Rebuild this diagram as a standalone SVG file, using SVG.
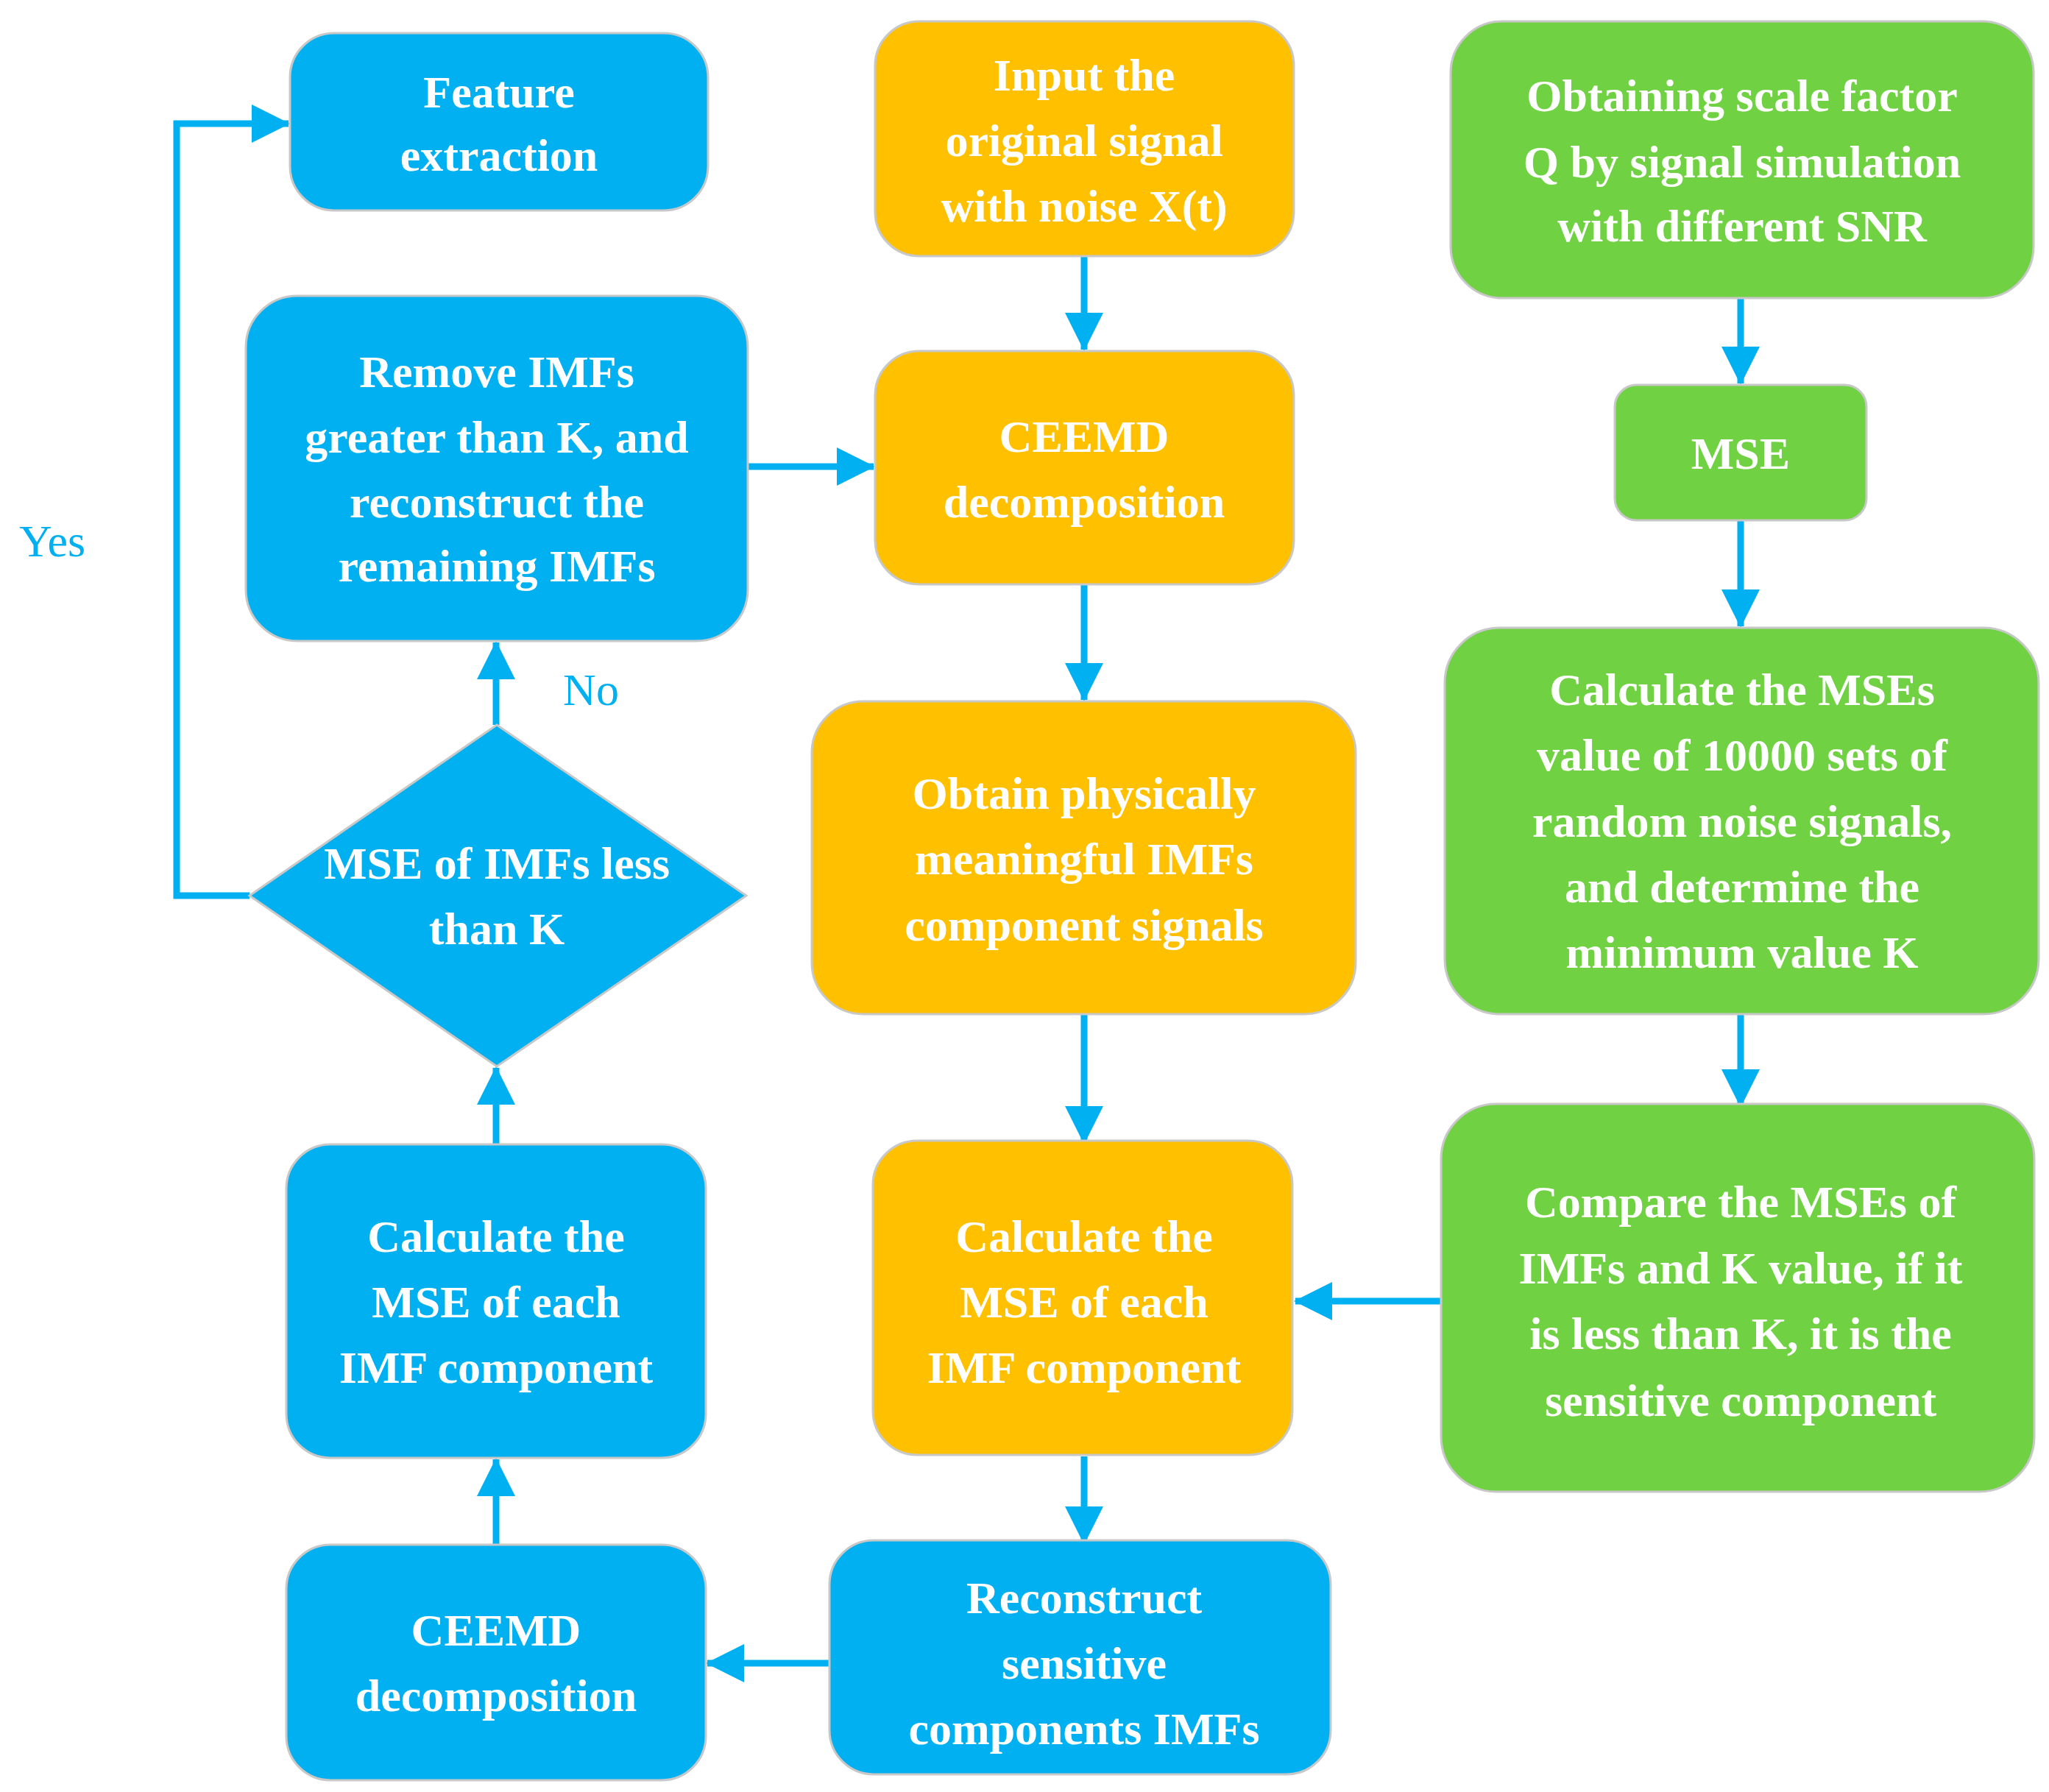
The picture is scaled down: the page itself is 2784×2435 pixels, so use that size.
<svg xmlns="http://www.w3.org/2000/svg" width="2784" height="2435" viewBox="0 0 2784 2435">
<style>
.b{fill:#00B0F0;stroke:#C8C8C8;stroke-width:3}
.o{fill:#FFC000;stroke:#C8C8C8;stroke-width:3}
.g{fill:#70D143;stroke:#C8C8C8;stroke-width:3}
text{font-family:"Liberation Serif","Times New Roman",serif;font-weight:bold;font-size:62px;fill:#fff;text-anchor:middle;dominant-baseline:central}
.c{fill:none;stroke:#00B0F0;stroke-width:9}
.lbl{font-weight:normal;fill:#00B0F0;font-size:62px}
</style>
<defs><marker id="a" markerUnits="userSpaceOnUse" markerWidth="52" markerHeight="52" refX="50" refY="26" orient="auto"><path d="M0,0L52,26L0,52Z" fill="#00B0F0"/></marker></defs>
<rect width="2784" height="2435" fill="#fff"/>
<g id="connectors">
<path class="c" d="M1473,348V475" marker-end="url(#a)"/>
<path class="c" d="M1473,794V951" marker-end="url(#a)"/>
<path class="c" d="M1473,1378V1553" marker-end="url(#a)"/>
<path class="c" d="M1473,1979V2097" marker-end="url(#a)"/>
<path class="c" d="M1132,2260H961" marker-end="url(#a)"/>
<path class="c" d="M674,2099V1983" marker-end="url(#a)"/>
<path class="c" d="M674,1555V1451" marker-end="url(#a)"/>
<path class="c" d="M674,985V873" marker-end="url(#a)"/>
<path class="c" d="M339,1217H240V168H392" marker-end="url(#a)"/>
<path class="c" d="M1016,634H1187" marker-end="url(#a)"/>
<path class="c" d="M2365,405V521" marker-end="url(#a)"/>
<path class="c" d="M2365,707V851" marker-end="url(#a)"/>
<path class="c" d="M2365,1378V1503" marker-end="url(#a)"/>
<path class="c" d="M1963,1768H1760" marker-end="url(#a)"/>
<text class="lbl" x="71" y="735">Yes</text>
<text class="lbl" x="803" y="937">No</text>
</g>
<g id="feature"><rect class="b" x="394" y="45" width="568" height="241" rx="60"/><text x="678" y="125">Feature</text><text x="678" y="211">extraction</text></g>
<g id="input"><rect class="o" x="1189" y="29" width="569" height="319" rx="60"/><text x="1473" y="102">Input the</text><text x="1473" y="191">original signal</text><text x="1473" y="280">with noise X(t)</text></g>
<g id="obtaining"><rect class="g" x="1971" y="29" width="792" height="376" rx="70"/><text x="2367" y="130">Obtaining scale factor</text><text x="2367" y="220">Q by signal simulation</text><text x="2367" y="307">with different SNR</text></g>
<g id="remove"><rect class="b" x="334" y="402" width="682" height="469" rx="70"/><text x="675" y="505">Remove IMFs</text><text x="675" y="594">greater than K, and</text><text x="675" y="682">reconstruct the</text><text x="675" y="769">remaining IMFs</text></g>
<g id="ceemd1"><rect class="o" x="1189" y="477" width="569" height="317" rx="60"/><text x="1473" y="593">CEEMD</text><text x="1473" y="682">decomposition</text></g>
<g id="mse"><rect class="g" x="2194" y="523" width="342" height="184" rx="30"/><text x="2365" y="616">MSE</text></g>
<g id="diamond"><path class="b" d="M675,985L1014,1217L675,1449L339,1217Z"/><text x="675" y="1173">MSE of IMFs less</text><text x="675" y="1262">than K</text></g>
<g id="physically"><rect class="o" x="1103" y="953" width="739" height="425" rx="70"/><text x="1473" y="1078">Obtain physically</text><text x="1473" y="1167">meaningful IMFs</text><text x="1473" y="1257">component signals</text></g>
<g id="calcmses"><rect class="g" x="1963" y="853" width="807" height="525" rx="75"/><text x="2367" y="937">Calculate the MSEs</text><text x="2367" y="1026">value of 10000 sets of</text><text x="2367" y="1116">random noise signals,</text><text x="2367" y="1205">and determine the</text><text x="2367" y="1294">minimum value  K</text></g>
<g id="calcleft"><rect class="b" x="389" y="1555" width="570" height="426" rx="60"/><text x="674" y="1680">Calculate the</text><text x="674" y="1769">MSE of each</text><text x="674" y="1858">IMF component</text></g>
<g id="calcmid"><rect class="o" x="1186" y="1550" width="570" height="427" rx="60"/><text x="1473" y="1680">Calculate the</text><text x="1473" y="1769">MSE of each</text><text x="1473" y="1858">IMF component</text></g>
<g id="compare"><rect class="g" x="1958" y="1500" width="806" height="527" rx="75"/><text x="2365" y="1633">Compare the MSEs of</text><text x="2365" y="1723">IMFs and K value, if it</text><text x="2365" y="1812">is less than K, it is the</text><text x="2365" y="1903">sensitive component</text></g>
<g id="ceemd2"><rect class="b" x="389" y="2099" width="570" height="320" rx="60"/><text x="674" y="2215">CEEMD</text><text x="674" y="2304">decomposition</text></g>
<g id="reconstruct"><rect class="b" x="1127" y="2093" width="681" height="318" rx="60"/><text x="1473" y="2171">Reconstruct</text><text x="1473" y="2260">sensitive</text><text x="1473" y="2349">components IMFs</text></g>
</svg>
